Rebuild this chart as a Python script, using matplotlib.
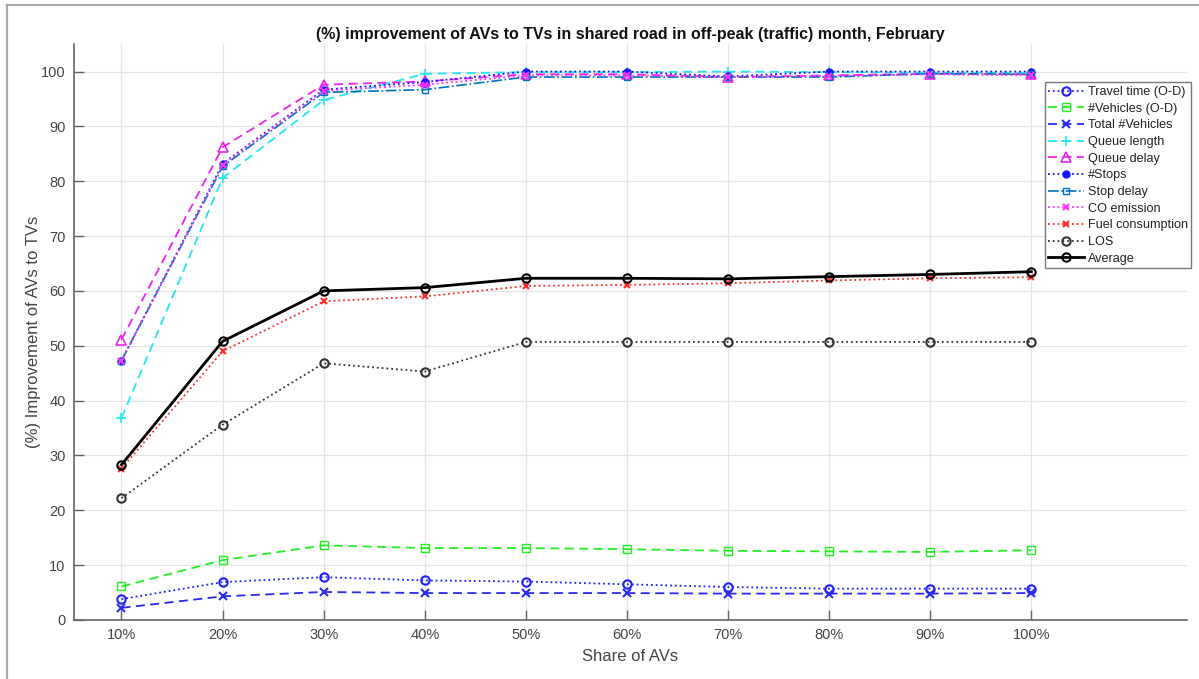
import matplotlib.pyplot as plt
from matplotlib.lines import Line2D

plt.rcParams["font.family"] = ["Liberation Sans", "DejaVu Sans"]

share_labels = ["10%", "20%", "30%", "40%", "50%", "60%", "70%", "80%", "90%", "100%"]
x_pos = list(range(1, len(share_labels) + 1))

travel_time = [3.8, 6.9, 7.8, 7.2, 7.0, 6.5, 6.0, 5.7, 5.7, 5.7]
vehicles_od = [6.1, 10.9, 13.6, 13.1, 13.1, 12.9, 12.6, 12.5, 12.4, 12.7]
total_vehicles = [2.2, 4.3, 5.1, 4.9, 4.9, 4.9, 4.8, 4.8, 4.8, 4.9]
queue_length = [36.8, 80.6, 94.8, 99.6, 99.9, 99.9, 100.0, 99.9, 99.8, 99.8]
queue_delay = [51.1, 86.2, 97.6, 98.2, 99.5, 99.5, 99.0, 99.3, 99.6, 99.5]
stops = [47.3, 83.2, 96.7, 98.1, 100.0, 100.0, 99.1, 100.0, 100.0, 100.0]
stop_delay = [47.3, 82.7, 96.2, 96.7, 99.0, 99.0, 99.0, 99.0, 99.6, 99.5]
co_emission = [47.2, 83.0, 96.5, 97.6, 99.3, 99.3, 99.0, 99.2, 99.5, 99.3]
fuel = [27.6, 49.0, 58.1, 59.0, 60.9, 61.1, 61.4, 61.9, 62.3, 62.5]
los = [22.2, 35.6, 46.8, 45.3, 50.7, 50.7, 50.7, 50.7, 50.7, 50.7]
average = [28.3, 50.8, 60.0, 60.6, 62.3, 62.3, 62.2, 62.6, 63.0, 63.5]

matlab_blue = "#0072BD"
dash = (0, (5, 3))

fig = plt.figure(figsize=(11.99, 6.79), dpi=100)
ax = fig.add_axes([0.0617, 0.087, 0.9283, 0.848])

ms = 6
ax.plot(x_pos, travel_time, ":", color="#2020ff", lw=1.3, marker="o", ms=ms,
        mfc="none", mew=1.5, label="Travel time (O-D)")
ax.plot(x_pos, vehicles_od, ls=dash, color="#22ee22", lw=1.3, marker="s", ms=ms,
        mfc="none", mew=1.0, label="#Vehicles (O-D)")
ax.plot(x_pos, total_vehicles, ls=dash, color="#2a2aee", lw=1.3, marker="x", ms=ms,
        mew=1.5, label="Total #Vehicles")
ax.plot(x_pos, queue_length, ls=dash, color="#22e6f0", lw=1.3, marker="+", ms=7,
        mew=1.2, label="Queue length")
ax.plot(x_pos, queue_delay, ls=dash, color="#ee22ee", lw=1.3, marker="^", ms=7,
        mfc="none", mew=1.2, label="Queue delay")
ax.plot(x_pos, stops, ":", color="#1515ff", lw=1.3, marker="o", ms=5,
        mfc="#1515ff", label="#Stops")
ax.plot(x_pos, stop_delay, "-.", color=matlab_blue, lw=1.2, marker="s", ms=5,
        mfc="none", mew=1.0, label="Stop delay")
ax.plot(x_pos, co_emission, ":", color="#ff33ff", lw=1.3, marker="x", ms=5,
        mew=1.5, label="CO emission")
ax.plot(x_pos, fuel, ":", color="#ff2a2a", lw=1.3, marker="x", ms=5,
        mew=1.5, label="Fuel consumption")
ax.plot(x_pos, los, ":", color="#333333", lw=1.3, marker="o", ms=ms,
        mfc="none", mew=1.5, label="LOS")
ax.plot(x_pos, average, "-", color="black", lw=2.0, marker="o", ms=ms,
        mfc="none", mew=1.5, label="Average")

ax.set_xlim(0.53, 11.54)
ax.set_ylim(0, 105)
ax.set_xticks(x_pos)
ax.set_xticklabels(share_labels)
ax.set_yticks(range(0, 101, 10))
ax.grid(True, color="#e4e4e4", lw=0.9)
ax.set_axisbelow(True)

for side in ["top", "right"]:
    ax.spines[side].set_visible(False)
for side in ["left", "bottom"]:
    ax.spines[side].set_color("#666666")
    ax.spines[side].set_linewidth(1.2)
ax.tick_params(direction="in", length=7.5, width=1.0, color="#666666",
               labelcolor="#444444", labelsize=10.5, pad=6)

ax.set_title("(%) improvement of AVs to TVs in shared road in off-peak (traffic) month, February",
             fontsize=11.5, fontweight="bold", color="#111111", pad=4)
ax.set_xlabel("Share of AVs", fontsize=12, color="#444444", labelpad=5)
ax.set_ylabel("(%) Improvement of AVs to TVs", fontsize=12, color="#444444", labelpad=0)

leg = ax.legend(loc="upper right", bbox_to_anchor=(1.004, 0.934), borderaxespad=0,
                fontsize=9.1, handlelength=2.8, labelspacing=0.37, handletextpad=0.3,
                borderpad=0.3, fancybox=False, framealpha=1, edgecolor="#777777")
leg.get_frame().set_linewidth(1.0)
for text in leg.get_texts():
    text.set_color("#222222")

# outer grey frame (cut at right and bottom)
fig.add_artist(Line2D([7 / 1199, 7 / 1199], [0, 1 - 5 / 679], color="#aaaaaa", lw=1.6))
fig.add_artist(Line2D([7 / 1199, 1], [1 - 5 / 679, 1 - 5 / 679], color="#aaaaaa", lw=1.6))

fig.savefig("out.png", dpi=100)
